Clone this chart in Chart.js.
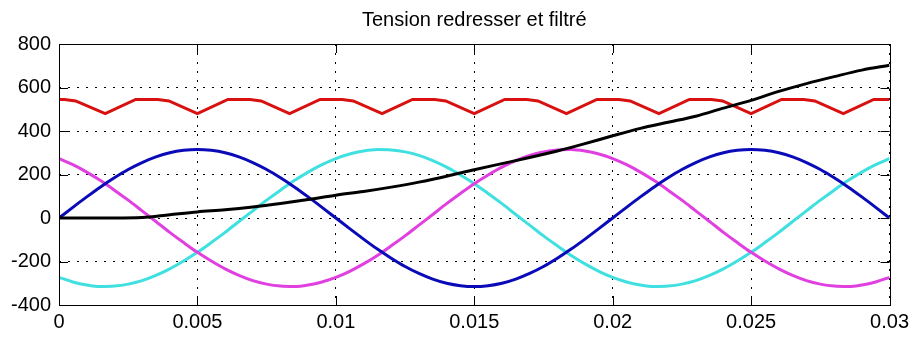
<!DOCTYPE html>
<html>
<head>
<meta charset="utf-8">
<script src="https://cdn.jsdelivr.net/npm/chart.js@4"></script>
<style>
    body { margin: 0; background: #fff; }
    #wrap { width: 914px; height: 338px; position: relative; }
</style>
</head>
<body>
<div id="wrap"><canvas id="tensionChart"></canvas></div>
<script>
// time axis (s) for the three phase voltages
const tSine = [
    0, 0.0005, 0.001, 0.0015, 0.002, 0.0025, 0.003, 0.0035, 0.004, 0.0045,
    0.005, 0.0055, 0.006, 0.0065, 0.007, 0.0075, 0.008, 0.0085, 0.009, 0.0095,
    0.01, 0.0105, 0.011, 0.0115, 0.012, 0.0125, 0.013, 0.0135, 0.014, 0.0145,
    0.015, 0.0155, 0.016, 0.0165, 0.017, 0.0175, 0.018, 0.0185, 0.019, 0.0195,
    0.02, 0.0205, 0.021, 0.0215, 0.022, 0.0225, 0.023, 0.0235, 0.024, 0.0245,
    0.025, 0.0255, 0.026, 0.0265, 0.027, 0.0275, 0.028, 0.0285, 0.029, 0.0295,
    0.03
];
const phaseA = [
    0, 49, 97, 143, 185, 223, 255, 281, 300, 311,
    315, 311, 300, 281, 255, 223, 185, 143, 97, 49,
    0, -49, -97, -143, -185, -223, -255, -281, -300, -311,
    -315, -311, -300, -281, -255, -223, -185, -143, -97, -49,
    0, 49, 97, 143, 185, 223, 255, 281, 300, 311,
    315, 311, 300, 281, 255, 223, 185, 143, 97, 49,
    0
];
const phaseB = [
    273, 245, 211, 172, 128, 82, 33, -16, -66, -113,
    -158, -198, -234, -264, -288, -304, -313, -315, -308, -294,
    -273, -245, -211, -172, -128, -82, -33, 16, 66, 113,
    158, 198, 234, 264, 288, 304, 313, 315, 308, 294,
    273, 245, 211, 172, 128, 82, 33, -16, -66, -113,
    -158, -198, -234, -264, -288, -304, -313, -315, -308, -294,
    -273
];
const phaseC = [
    -273, -294, -308, -315, -313, -304, -288, -264, -234, -198,
    -158, -113, -66, -16, 33, 82, 128, 172, 211, 245,
    273, 294, 308, 315, 313, 304, 288, 264, 234, 198,
    158, 113, 66, 16, -33, -82, -128, -172, -211, -245,
    -273, -294, -308, -315, -313, -304, -288, -264, -234, -198,
    -158, -113, -66, -16, 33, 82, 128, 172, 211, 245,
    273
];

// rectified voltage (6-pulse ripple)
const tRed = [
    0, 0.0002, 0.0006, 0.00167,
    0.00277, 0.00357, 0.00397, 0.005,
    0.0061, 0.0069, 0.0073, 0.00833,
    0.00943, 0.01023, 0.01063, 0.01167,
    0.01277, 0.01357, 0.01397, 0.015,
    0.0161, 0.0169, 0.0173, 0.01833,
    0.01943, 0.02023, 0.02063, 0.02167,
    0.02277, 0.02357, 0.02397, 0.025,
    0.0261, 0.0269, 0.0273, 0.02833,
    0.02943, 0.03
];
const redresse = [
    545, 545, 538, 480,
    545, 545, 538, 480,
    545, 545, 538, 480,
    545, 545, 538, 480,
    545, 545, 538, 480,
    545, 545, 538, 480,
    545, 545, 538, 480,
    545, 545, 538, 480,
    545, 545, 538, 480,
    545, 545
];

// filtered voltage
const tBlack = [
    0, 0.001, 0.002, 0.003, 0.004, 0.005, 0.006, 0.007, 0.008, 0.009,
    0.01, 0.011, 0.012, 0.013, 0.014, 0.015, 0.016, 0.017, 0.018, 0.019,
    0.02, 0.021, 0.022, 0.023, 0.024, 0.025, 0.026, 0.027, 0.028, 0.029,
    0.03
];
const filtre = [
    0, 0, 0, 2, 15, 28, 38, 51, 67, 85,
    105, 122, 142, 165, 192, 222, 250, 278, 308, 342,
    378, 412, 440, 468, 505, 541, 582, 618, 650, 680,
    702
];

const xTicks = [0, 0.005, 0.01, 0.015, 0.02, 0.025, 0.03];
const xTickLabels = ['0', '0.005', '0.01', '0.015', '0.02', '0.025', '0.03'];
const yTicks = [-400, -200, 0, 200, 400, 600, 800];
const yTickLabels = ['-400', '-200', '0', '200', '400', '600', '800'];

const pts = (xs, ys) => xs.map((x, i) => ({ x: x, y: ys[i] }));

// box round the axes with inward tick marks, matlab style
const boxPlugin = {
    id: 'box',
    afterDraw(chart) {
        const { ctx, chartArea: a, scales } = chart;
        const len = 9;
        ctx.save();
        ctx.strokeStyle = '#000';
        ctx.lineWidth = 1;
        ctx.beginPath();
        xTicks.forEach(v => {
            const px = Math.round(scales.x.getPixelForValue(v)) + 0.5;
            ctx.moveTo(px, a.top); ctx.lineTo(px, a.top + len);
            ctx.moveTo(px, a.bottom); ctx.lineTo(px, a.bottom - len);
        });
        yTicks.forEach(v => {
            const py = Math.round(scales.y.getPixelForValue(v)) + 0.5;
            ctx.moveTo(a.left, py); ctx.lineTo(a.left + len, py);
            ctx.moveTo(a.right, py); ctx.lineTo(a.right - len, py);
        });
        ctx.stroke();
        ctx.strokeRect(Math.round(a.left) + 0.5, Math.round(a.top) + 0.5,
            Math.round(a.right - a.left), Math.round(a.bottom - a.top));
        ctx.restore();
    }
};

const ctx = document.getElementById('tensionChart').getContext('2d');

new Chart(ctx, {
    type: 'line',
    data: {
        datasets: [
            { label: 'filtre', data: pts(tBlack, filtre), borderColor: '#000000', cubicInterpolationMode: 'monotone' },
            { label: 'redresse', data: pts(tRed, redresse), borderColor: '#d81010', tension: 0 },
            { label: 'Va', data: pts(tSine, phaseA), borderColor: '#0a0ab8', cubicInterpolationMode: 'monotone' },
            { label: 'Vb', data: pts(tSine, phaseB), borderColor: '#e040e0', cubicInterpolationMode: 'monotone' },
            { label: 'Vc', data: pts(tSine, phaseC), borderColor: '#40e0e0', cubicInterpolationMode: 'monotone' }
        ]
    },
    options: {
        responsive: true,
        maintainAspectRatio: false,
        animation: false,
        layout: { padding: { left: 0, right: 24, top: 0, bottom: 0 } },
        elements: {
            point: { radius: 0 },
            line: { borderWidth: 3, fill: false }
        },
        plugins: {
            legend: { display: false },
            tooltip: { enabled: false },
            title: {
                display: true,
                fullSize: false,
                text: 'Tension redresser et filtré',
                color: '#000',
                font: { family: '"Liberation Sans", Arial, sans-serif', size: 20, weight: 'normal' },
                padding: { top: 8, bottom: 12 }
            }
        },
        scales: {
            x: {
                type: 'linear',
                min: 0,
                max: 0.03,
                afterBuildTicks: axis => { axis.ticks = xTicks.map(v => ({ value: v })); },
                afterFit: axis => { axis.height = 33; },
                ticks: {
                    autoSkip: false,
                    maxRotation: 0,
                    padding: 5,
                    color: '#000',
                    font: { family: '"Liberation Sans", Arial, sans-serif', size: 20 },
                    callback: (value, i) => xTickLabels[i]
                },
                grid: { color: '#000', lineWidth: 1, drawTicks: false },
                border: { display: false, dash: [2, 7] }
            },
            y: {
                min: -400,
                max: 800,
                afterBuildTicks: axis => { axis.ticks = yTicks.map(v => ({ value: v })); },
                afterFit: axis => { axis.width = 59; },
                ticks: {
                    padding: 8,
                    color: '#000',
                    font: { family: '"Liberation Sans", Arial, sans-serif', size: 20 },
                    callback: (value, i) => yTickLabels[i]
                },
                grid: { color: '#000', lineWidth: 1, drawTicks: false },
                border: { display: false, dash: [2, 7] }
            }
        }
    },
    plugins: [boxPlugin]
});
</script>
</body>
</html>
